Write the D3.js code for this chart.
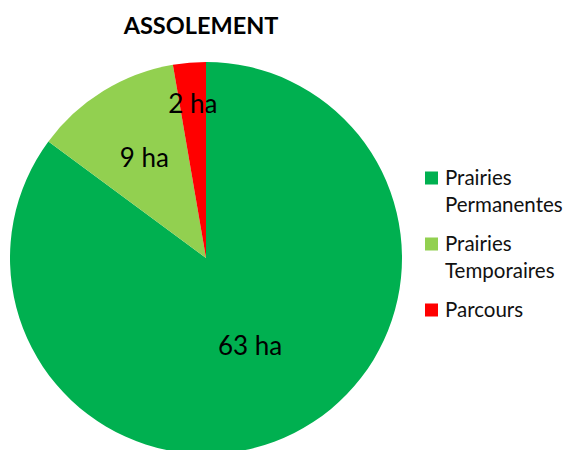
<!DOCTYPE html>
<html>
<head>
<meta charset="utf-8">
<script src="https://cdn.jsdelivr.net/npm/d3@7"></script>
<style>
  body { margin: 0; background: #fff; }
  text { font-family: Lato, "Open Sans", sans-serif; }
</style>
</head>
<body>
<svg></svg>
<script>
const categories = ["Prairies Permanentes", "Prairies Temporaires", "Parcours"];
const values = [63, 9, 2];
const labels = ["63 ha", "9 ha", "2 ha"];
const colors = ["#00B050", "#92D050", "#FF0000"];

const width = 571;
const height = 450;
const cx = 206;
const cy = 258;
const radius = 196;
// label distance from centre, as a share of the radius (Excel "best fit")
const labelPos = [0.5, 0.6, 0.79];

const svg = d3.select("svg").attr("width", width).attr("height", height);

const pie = d3.pie().sort(null).value(d => d);
const arcs = pie(values);
const arc = d3.arc().innerRadius(0).outerRadius(radius);

const g = svg.append("g").attr("transform", `translate(${cx},${cy})`);

g.selectAll("path")
  .data(arcs)
  .enter()
  .append("path")
  .attr("d", arc)
  .attr("fill", (d, i) => colors[i]);

g.selectAll("text.lbl")
  .data(arcs)
  .enter()
  .append("text")
  .attr("class", "lbl")
  .attr("transform", (d, i) => {
    const r = radius * labelPos[i];
    const a = (d.startAngle + d.endAngle) / 2;
    return `translate(${r * Math.sin(a)},${-r * Math.cos(a)})`;
  })
  .attr("dy", "0.36em")
  .style("text-anchor", "middle")
  .style("font-size", "26px")
  .text((d, i) => labels[i]);

svg.append("text")
  .attr("x", 201)
  .attr("y", 34)
  .style("text-anchor", "middle")
  .style("font-size", "23.5px")
  .style("font-weight", "bold")
  .text("ASSOLEMENT");

const legendY = d3.scalePoint().domain(categories).range([178, 310]);

const legend = svg.selectAll("g.legend")
  .data(categories)
  .enter()
  .append("g")
  .attr("class", "legend")
  .attr("transform", d => `translate(425,${legendY(d)})`);

legend.append("rect")
  .attr("x", 0)
  .attr("y", -6.5)
  .attr("width", 13)
  .attr("height", 13)
  .attr("fill", (d, i) => colors[i]);

legend.each(function (d) {
  const words = d.split(" ");
  const t = d3.select(this).append("text")
    .attr("x", 20)
    .attr("y", 0)
    .style("font-size", "20.5px")
    .style("fill", "#111");
  words.forEach((w, k) => {
    t.append("tspan")
      .attr("x", 20)
      .attr("dy", k === 0 ? "0.36em" : "27px")
      .text(w);
  });
});
</script>
</body>
</html>
